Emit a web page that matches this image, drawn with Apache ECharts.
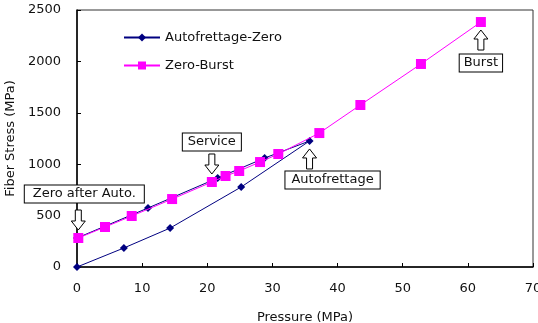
<!DOCTYPE html>
<html>
<head>
<meta charset="utf-8">
<script src="https://cdn.jsdelivr.net/npm/echarts@6/dist/echarts.min.js"></script>
<style>
  html, body { margin: 0; padding: 0; background: #fff; }
  #chart { width: 538px; height: 323px; }
</style>
</head>
<body>
<div id="chart"></div>
<script>
// Autofrettage-Zero: loading 0 -> autofrettage, then unloading back to zero
var autoZeroPressure = [0, 7.2, 14.3, 25.2, 35.7, 28.8, 21.6, 10.9, 0];
var autoZeroStress = [0, 185, 379, 778, 1226, 1060, 866, 574, 282];

// Zero-Burst
var zeroBurstPressure = [0.2, 4.3, 8.4, 14.6, 20.7, 22.8, 24.9, 28.1, 30.9, 37.2, 43.5, 52.8, 62.0];
var zeroBurstStress = [282, 389, 496, 661, 827, 885, 934, 1021, 1099, 1303, 1576, 1975, 2383];

var xTicks = [0, 10, 20, 30, 40, 50, 60, 70];
var yTicks = [0, 500, 1000, 1500, 2000, 2500];

// callouts: label, anchor point, arrow direction
var callouts = [
  { text: 'Zero after Auto.', at: [0.2, 282], dir: 'down' },
  { text: 'Service', at: [20.7, 827], dir: 'down' },
  { text: 'Autofrettage', at: [35.7, 1226], dir: 'up' },
  { text: 'Burst', at: [62.0, 2383], dir: 'up' }
];

var fontFamily = 'DejaVu Sans';

function pairs(xs, ys) {
  return xs.map(function (x, i) { return [x, ys[i]]; });
}

var chart = echarts.init(document.getElementById('chart'));

chart.setOption({
  animation: false,
  textStyle: { fontFamily: fontFamily },
  grid: {
    left: 77, right: 5, top: 10, bottom: 56,
    outerBoundsMode: 'none',
    containLabel: false,
    show: true, borderColor: '#333', borderWidth: 1
  },
  legend: {
    orient: 'vertical',
    left: 118, top: 26,
    itemWidth: 36, itemHeight: 10, itemGap: 15,
    textStyle: { fontSize: 13, color: '#111', fontFamily: fontFamily },
    data: ['Autofrettage-Zero', 'Zero-Burst']
  },
  xAxis: {
    type: 'value',
    min: 0, max: 70, interval: 10,
    name: 'Pressure (MPa)',
    nameLocation: 'middle', nameGap: 44,
    nameTextStyle: { fontSize: 13, color: '#111' },
    axisLine: { lineStyle: { color: '#000', width: 1.5 } },
    axisTick: { inside: true, length: 4, lineStyle: { color: '#000' } },
    axisLabel: {
      fontSize: 13, color: '#111', margin: 15,
      formatter: function (v) { return xTicks.indexOf(v) >= 0 ? String(v) : ''; }
    },
    splitLine: { show: false }
  },
  yAxis: {
    type: 'value',
    min: 0, max: 2500, interval: 500,
    name: 'Fiber Stress (MPa)',
    nameLocation: 'middle', nameGap: 55,
    nameTextStyle: { fontSize: 13, color: '#111' },
    axisLine: { show: true, lineStyle: { color: '#000', width: 1.5 } },
    axisTick: { show: true, inside: true, length: 4, lineStyle: { color: '#000' } },
    axisLabel: {
      fontSize: 13, color: '#111', margin: 16,
      formatter: function (v) { return yTicks.indexOf(v) >= 0 ? String(v) : ''; }
    },
    splitLine: { show: false }
  },
  series: [
    {
      name: 'Autofrettage-Zero',
      type: 'line',
      data: pairs(autoZeroPressure, autoZeroStress),
      symbol: 'diamond',
      symbolSize: 8,
      color: '#000080',
      lineStyle: { width: 1, color: '#000080' },
      itemStyle: { color: '#000080' },
      z: 2
    },
    {
      name: 'Zero-Burst',
      type: 'line',
      data: pairs(zeroBurstPressure, zeroBurstStress),
      symbol: 'rect',
      symbolSize: 10,
      color: '#ff00ff',
      lineStyle: { width: 1, color: '#ff00ff' },
      itemStyle: { color: '#ff00ff' },
      z: 3
    }
  ]
});

// hollow block arrow with its tip at (0,0), pointing down
function arrowPoints(dir) {
  var pts = [[-3, -20], [3, -20], [3, -9], [7, -9], [0, 0], [-7, -9], [-3, -9]];
  if (dir === 'up') {
    pts = pts.map(function (p) { return [p[0], -p[1]]; });
  }
  return pts;
}

// box offsets relative to the anchor point (px)
var boxLayout = {
  'Zero after Auto.': { arrowDy: -8, boxCx: 6, boxCy: -44, padX: 8 },
  'Service': { arrowDy: -8, boxCx: 0, boxCy: -40, padX: 5 },
  'Autofrettage': { arrowDy: 8, boxCx: 23, boxCy: 39, padX: 6 },
  'Burst': { arrowDy: 8, boxCx: 0, boxCy: 41, padX: 4 }
};

var graphics = [];
callouts.forEach(function (c) {
  var p = chart.convertToPixel({ gridIndex: 0 }, c.at);
  var lay = boxLayout[c.text];
  graphics.push({
    type: 'polygon',
    x: p[0], y: p[1] + lay.arrowDy,
    shape: { points: arrowPoints(c.dir) },
    style: { fill: '#fff', stroke: '#000', lineWidth: 1 },
    z: 10
  });
  graphics.push({
    type: 'text',
    x: p[0] + lay.boxCx, y: p[1] + lay.boxCy,
    style: {
      text: c.text,
      fontSize: 13,
      fontFamily: fontFamily,
      fill: '#111',
      align: 'center',
      verticalAlign: 'middle',
      backgroundColor: '#fff',
      borderColor: '#000',
      borderWidth: 1,
      padding: [2, lay.padX, 2, lay.padX]
    },
    z: 10
  });
});

chart.setOption({ graphic: graphics });
</script>
</body>
</html>
